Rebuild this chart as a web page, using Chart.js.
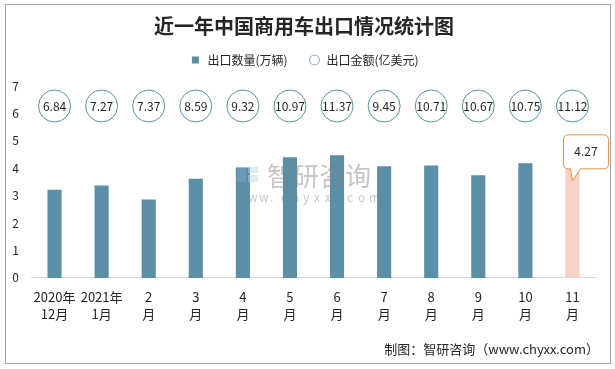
<!DOCTYPE html>
<html>
<head>
<meta charset="utf-8">
<script src="https://cdn.jsdelivr.net/npm/chart.js@4.4.0/dist/chart.umd.min.js"></script>
<style>
  html, body { margin: 0; padding: 0; background: #fff; }
  #wrap { width: 615px; height: 369px; }
</style>
</head>
<body>
<div id="wrap"><canvas id="chart" width="615" height="369"></canvas></div>
<script>
"use strict";

const months = [
  ["2020年", "12月"], ["2021年", "1月"], ["2", "月"], ["3", "月"], ["4", "月"], ["5", "月"],
  ["6", "月"], ["7", "月"], ["8", "月"], ["9", "月"], ["10", "月"], ["11", "月"]
];
// 出口数量(万辆)
const exportQty = [3.22, 3.37, 2.86, 3.62, 4.03, 4.40, 4.47, 4.07, 4.10, 3.74, 4.18, 4.27];
// 出口金额(亿美元)
const exportAmount = [6.84, 7.27, 7.37, 8.59, 9.32, 10.97, 11.37, 9.45, 10.71, 10.67, 10.75, 11.12];
const yTicks = [0, 1, 2, 3, 4, 5, 6, 7];

const barBlue = "#5b8fa7";
const barPink = "#f8d0c6";
const circleRow = 6.27; // the row where the amount circles sit
const fontFamily = "'Noto Sans CJK SC', 'Noto Sans', sans-serif";

const barColors = exportQty.map((v, i) => (i === exportQty.length - 1 ? barPink : barBlue));

// white background + grey frame + source note
const framePlugin = {
  id: "frame",
  beforeDraw(chart) {
    const ctx = chart.ctx;
    ctx.save();
    ctx.fillStyle = "#fff";
    ctx.fillRect(0, 0, chart.width, chart.height);
    ctx.strokeStyle = "#a6a6a6";
    ctx.lineWidth = 1;
    ctx.strokeRect(5.5, 4.5, 605, 359);
    ctx.restore();
  },
  afterDraw(chart) {
    const ctx = chart.ctx;
    ctx.save();
    ctx.fillStyle = "#262626";
    ctx.font = "13px " + fontFamily;
    ctx.textAlign = "right";
    ctx.textBaseline = "middle";
    ctx.fillText("制图：智研咨询（www.chyxx.com）", 599, 349);
    ctx.restore();
  }
};

// faint watermark in the middle
const watermarkPlugin = {
  id: "watermark",
  afterDatasetsDraw(chart) {
    const ctx = chart.ctx;
    ctx.save();
    ctx.globalAlpha = 0.45;
    ctx.fillStyle = "#7fa6cc";
    ctx.fillRect(237, 167, 9, 15);
    ctx.fillStyle = "#b9d0e6";
    ctx.fillRect(248, 167, 10, 6);
    ctx.fillRect(248, 175, 10, 7);
    ctx.fillStyle = "#808080";
    ctx.font = "26px " + fontFamily;
    ctx.textBaseline = "middle";
    ctx.textAlign = "left";
    ctx.fillText("智研咨询", 267, 176);
    ctx.font = "12px " + fontFamily;
    const url = "www.chyxx.com".split("");
    url.forEach((c, i) => ctx.fillText(c, 237 + i * 11, 197));
    ctx.restore();
  }
};

// amount labels inside circles + callout on the last bar
const labelPlugin = {
  id: "labels",
  afterDatasetsDraw(chart) {
    const ctx = chart.ctx;
    ctx.save();
    ctx.font = "12px " + fontFamily;
    ctx.fillStyle = "#262626";
    ctx.textAlign = "center";
    ctx.textBaseline = "middle";
    chart.getDatasetMeta(1).data.forEach((pt, i) => {
      ctx.fillText(exportAmount[i].toFixed(2), pt.x, pt.y);
    });

    const last = chart.getDatasetMeta(0).data[exportQty.length - 1];
    const x = last.x;
    const y = last.y;
    const l = x - 9, r = x + 36, t = y - 26, b = y + 8, rad = 5;
    ctx.beginPath();
    ctx.moveTo(l + rad, t);
    ctx.lineTo(r - rad, t);
    ctx.quadraticCurveTo(r, t, r, t + rad);
    ctx.lineTo(r, b - rad);
    ctx.quadraticCurveTo(r, b, r - rad, b);
    ctx.lineTo(x + 8, b);
    ctx.lineTo(x, y + 20);
    ctx.lineTo(x - 2, b);
    ctx.lineTo(l + rad, b);
    ctx.quadraticCurveTo(l, b, l, b - rad);
    ctx.lineTo(l, t + rad);
    ctx.quadraticCurveTo(l, t, l + rad, t);
    ctx.closePath();
    ctx.fillStyle = "#fff";
    ctx.fill();
    ctx.strokeStyle = "#e8923f";
    ctx.lineWidth = 1;
    ctx.stroke();
    ctx.fillStyle = "#262626";
    ctx.fillText(exportQty[exportQty.length - 1].toFixed(2), x + 13.5, y - 9);
    ctx.restore();
  }
};

const data = {
  labels: months,
  datasets: [
    {
      label: "出口数量(万辆)",
      type: "bar",
      data: exportQty,
      backgroundColor: barColors,
      borderWidth: 0,
      barPercentage: 0.3,
      categoryPercentage: 1
    },
    {
      label: "出口金额(亿美元)",
      type: "line",
      data: exportAmount.map(() => circleRow),
      showLine: false,
      pointStyle: "circle",
      pointRadius: 16,
      pointHoverRadius: 16,
      pointBackgroundColor: "#fff",
      pointBorderColor: "#5b8fa7",
      pointBorderWidth: 1
    }
  ]
};

const config = {
  type: "bar",
  data: data,
  options: {
    responsive: false,
    animation: false,
    events: [],
    layout: { autoPadding: false, padding: { top: 0, left: 12, right: 19, bottom: 44 } },
    plugins: {
      title: {
        display: true,
        text: "近一年中国商用车出口情况统计图",
        color: "#262626",
        font: { size: 20, weight: "bold", family: fontFamily, lineHeight: 0.7 },
        padding: { top: 19, bottom: 0 }
      },
      // empty spacer between legend and plot
      subtitle: {
        display: true,
        text: "",
        weight: 500,
        font: { size: 10, lineHeight: 1 },
        padding: 0
      },
      legend: {
        display: true,
        labels: {
          usePointStyle: true,
          boxHeight: 7,
          padding: 21,
          color: "#262626",
          font: { size: 12, family: fontFamily },
          generateLabels(chart) {
            const items = Chart.defaults.plugins.legend.labels.generateLabels(chart);
            items.forEach(item => {
              if (item.datasetIndex === 0) {
                item.pointStyle = "rect";
                item.fillStyle = barBlue;
                item.strokeStyle = barBlue;
              } else {
                item.pointStyle = "circle";
                item.fillStyle = "#fff";
                item.strokeStyle = "#7ea9c1";
                item.lineWidth = 1;
              }
            });
            return items.sort((a, b) => a.datasetIndex - b.datasetIndex);
          }
        }
      },
      tooltip: { enabled: false }
    },
    scales: {
      x: {
        afterFit(scale) {
          scale.paddingLeft = 0;
          scale.paddingRight = 0;
        },
        grid: { display: false },
        border: { display: true, color: "#d9d9d9" },
        ticks: {
          color: "#262626",
          font: { size: 13, family: fontFamily, lineHeight: 1.35 },
          padding: 2,
          maxRotation: 0,
          autoSkip: false
        }
      },
      y: {
        min: 0,
        max: 7,
        afterBuildTicks(axis) {
          axis.ticks = yTicks.map(v => ({ value: v }));
        },
        afterFit(axis) {
          axis.width = 19;
        },
        grid: { display: false, drawTicks: false },
        border: { display: false },
        ticks: {
          color: "#262626",
          font: { size: 12, family: fontFamily },
          padding: 12
        }
      }
    }
  },
  plugins: [framePlugin, watermarkPlugin, labelPlugin]
};

new Chart(document.getElementById("chart"), config);
</script>
</body>
</html>
